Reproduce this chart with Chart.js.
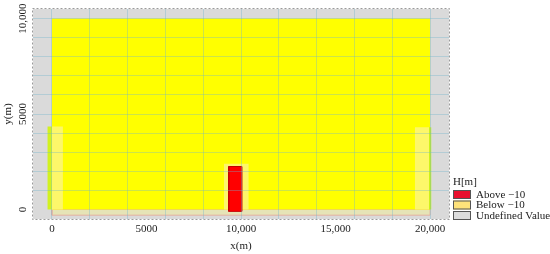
<!DOCTYPE html>
<html>
<head>
<meta charset="utf-8">
<script src="https://cdn.jsdelivr.net/npm/chart.js@4/dist/chart.umd.min.js"></script>
<style>
  html, body { margin: 0; padding: 0; background: #fff; }
  #wrap { width: 550px; height: 254px; }
</style>
</head>
<body>
<div id="wrap"><canvas id="chart_depth"></canvas></div>
<script>
// axis ranges (m)
const xRange = [-1000, 21000];
const yRange = [-500, 10500];
const xTickValues = [0, 5000, 10000, 15000, 20000];
const yTickValues = [0, 5000, 10000];
const xGridStep = 2000;
const yGridStep = 1000;

// map regions, each as [x0, x1, y0, y1] in metres
const domainBox = [0, 20000, 0, 10000];
const bottomStrip = [0, 20000, -300, 0];
const leftPale = [0, 580, 0, 4350];
const leftEdge = [-230, 0, 0, 4350];
const rightPale = [19200, 19950, 0, 4300];
const rightEdge = [19950, 20060, 0, 4300];
const barPale = [9100, 10400, 0, 2400];
const barBox = [9350, 10050, -100, 2250];

// legend
const legendTitle = 'H[m]';
const legendLabels = ['Above \u221210', 'Below \u221210', 'Undefined Value'];
const legendColors = ['#e8102e', '#ffe27a', '#dcdcdc'];

const serif = "'Liberation Serif', 'DejaVu Serif', serif";
const gridColor = 'rgba(110,180,205,0.36)';

function rect(b) {
    return [
        { x: b[0], y: b[2] }, { x: b[1], y: b[2] },
        { x: b[1], y: b[3] }, { x: b[0], y: b[3] }, { x: b[0], y: b[2] }
    ];
}

function fmt(v) {
    return v >= 10000 ? v.toLocaleString('en-US') : String(v);
}

function area(label, box, color, border) {
    return {
        label: label,
        data: rect(box),
        showLine: true,
        fill: 'shape',
        backgroundColor: color,
        borderColor: border || color,
        borderWidth: border ? 1 : 0,
        pointRadius: 0,
        pointHoverRadius: 0,
    };
}

// grid positions: every step inside the axis range
function gridTicks(range, step) {
    const out = [];
    for (let v = Math.ceil(range[0] / step) * step; v <= range[1]; v += step) out.push({ value: v });
    return out;
}

// gray plot background + dashed frame
const frame = {
    id: 'frame',
    beforeDatasetsDraw(chart) {
        const { ctx, chartArea: a } = chart;
        ctx.save();
        ctx.fillStyle = '#dadada';
        ctx.fillRect(a.left, a.top, a.right - a.left, a.bottom - a.top);
        ctx.restore();
    },
    afterDraw(chart) {
        const { ctx, chartArea: a, scales } = chart;
        ctx.save();
        ctx.strokeStyle = '#9a9a9a';
        ctx.lineWidth = 1;
        ctx.setLineDash([2, 2]);
        ctx.strokeRect(a.left - 0.5, a.top - 0.5, a.right - a.left + 1, a.bottom - a.top + 1);
        ctx.setLineDash([]);

        // y tick labels, rotated like the original
        ctx.fillStyle = '#222';
        ctx.font = '11px ' + serif;
        ctx.textAlign = 'center';
        ctx.textBaseline = 'middle';
        yTickValues.forEach(v => {
            const y = scales.y.getPixelForValue(v);
            ctx.save();
            ctx.translate(23, y);
            ctx.rotate(-Math.PI / 2);
            ctx.fillText(fmt(v), 0, 0);
            ctx.restore();
        });

        // legend
        const lx = a.right + 4;
        ctx.textAlign = 'left';
        ctx.fillText(legendTitle, lx, 182);
        legendLabels.forEach((t, i) => {
            const top = 190 + i * 10.5;
            ctx.fillStyle = legendColors[i];
            ctx.fillRect(lx, top, 18, 9);
            ctx.strokeStyle = '#555';
            ctx.strokeRect(lx + 0.5, top + 0.5, 17, 8);
            ctx.fillStyle = '#222';
            ctx.fillText(t, lx + 23, top + 5);
        });
        ctx.restore();
    }
};

new Chart(document.getElementById('chart_depth'), {
    type: 'scatter',
    data: {
        datasets: [
            area('Above -10', barBox, '#ff0000', '#c40000'),
            area('pale bar', barPale, '#fdf66a'),
            area('right edge', rightEdge, '#c8f01a'),
            area('right pale', rightPale, '#fdf76a'),
            area('left edge', leftEdge, '#d2f21e'),
            area('left pale', leftPale, '#fdf76a'),
            area('Below -10', domainBox, '#ffff00'),
            area('strip', bottomStrip, '#e6e4b6', '#e2b0a2'),
        ],
    },
    options: {
        responsive: true,
        maintainAspectRatio: false,
        animation: false,
        layout: { padding: { top: 9, right: 101, left: 0, bottom: 0 } },
        plugins: {
            legend: { display: false },
            tooltip: { enabled: false },
        },
        scales: {
            x: {
                type: 'linear',
                min: xRange[0],
                max: xRange[1],
                border: { display: false },
                grid: {
                    z: 1,
                    drawTicks: false,
                    color: (c) => (c.tick && c.tick.value % xGridStep === 0) ? gridColor : 'transparent',
                },
                ticks: {
                    stepSize: 1000,
                    autoSkip: false,
                    maxRotation: 0,
                    padding: 4,
                    color: '#222',
                    font: { family: serif, size: 11 },
                    callback: (v) => (xTickValues.includes(v) ? fmt(v) : ''),
                },
                title: {
                    display: true,
                    text: 'x(m)',
                    color: '#222',
                    font: { family: serif, size: 11 },
                    padding: { top: 0, bottom: 1 },
                },
                afterFit: (s) => { s.height = 35; },
            },
            y: {
                type: 'linear',
                min: yRange[0],
                max: yRange[1],
                border: { display: false },
                afterBuildTicks: (s) => { s.ticks = gridTicks(yRange, yGridStep); },
                grid: {
                    z: 1,
                    drawTicks: false,
                    color: (c) => (c.tick && c.tick.value > 0) ? gridColor : 'transparent',
                },
                ticks: { display: false },
                title: {
                    display: true,
                    text: 'y(m)',
                    color: '#222',
                    font: { family: serif, size: 11 },
                    padding: { top: 2, bottom: 0 },
                },
                afterFit: (s) => { s.width = 33; },
            },
        },
    },
    plugins: [frame],
});
</script>
</body>
</html>
